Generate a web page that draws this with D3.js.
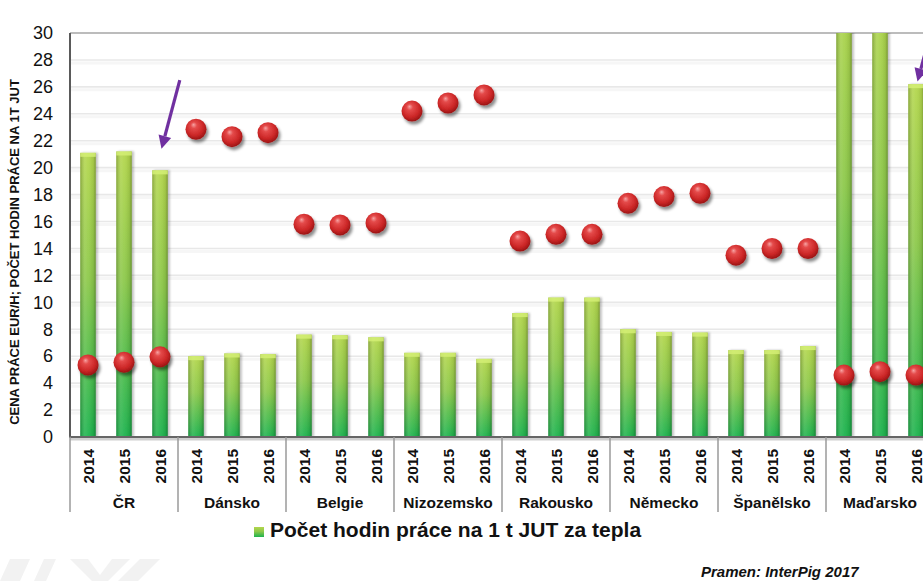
<!DOCTYPE html>
<html>
<head>
<meta charset="utf-8">
<script src="https://cdn.jsdelivr.net/npm/d3@7/dist/d3.min.js"></script>
<style>
  html, body { margin: 0; padding: 0; background: #fff; }
  svg { display: block; font-family: "Liberation Sans", Arial, sans-serif; }
</style>
</head>
<body>
<svg id="chart" width="923" height="581"></svg>
<script>
// values
const countries = ['ČR', 'Dánsko', 'Belgie', 'Nizozemsko', 'Rakousko', 'Německo', 'Španělsko', 'Maďarsko'];
const years = ['2014', '2015', '2016'];
// počet hodin práce na 1 t JUT (bars) — Maďarsko 2014/2015 run off the top
const hours = [
  [21.1, 21.2, 19.8],
  [6.0, 6.2, 6.15],
  [7.6, 7.55, 7.4],
  [6.25, 6.25, 5.8],
  [9.2, 10.35, 10.35],
  [8.0, 7.8, 7.75],
  [6.45, 6.45, 6.75],
  [34, 33, 26.2]
];
// cena práce EUR/h (dots)
const price = [
  [5.35, 5.55, 5.95],
  [22.85, 22.3, 22.6],
  [15.8, 15.75, 15.9],
  [24.2, 24.8, 25.4],
  [14.55, 15.05, 15.05],
  [17.35, 17.85, 18.1],
  [13.5, 14.0, 14.0],
  [4.6, 4.85, 4.6]
];
const yTicks = d3.range(0, 31, 2);
// arrows point at [country, year, value at the tip]
const arrows = [['ČR', '2016', 21.4], ['Maďarsko', '2016', 26.4]];
const yTitle = 'CENA PRÁCE EUR/H; POČET HODIN PRÁCE NA 1T JUT';
const legendText = 'Počet hodin práce na 1 t JUT za tepla';
const sourceText = 'Pramen: InterPig 2017';

const svg = d3.select('#chart');
const W = 923, H = 581;
const m = { left: 70, top: 33, bottom: 437, right: 934 };

const rows = [];
countries.forEach((c, i) => years.forEach((yr, j) => {
  rows.push({ key: c + '|' + yr, country: c, year: yr, hours: hours[i][j], price: price[i][j] });
}));

const x = d3.scaleBand().domain(rows.map(d => d.key)).range([m.left, m.right]);
const xg = d3.scaleBand().domain(countries).range([m.left, m.right]);
const y = d3.scaleLinear().domain([0, 30]).range([m.bottom, m.top]);
const barW = 15.5;

const defs = svg.append('defs');
const vg = defs.append('linearGradient').attr('id', 'barV').attr('x1', 0).attr('y1', 0).attr('x2', 0).attr('y2', 1);
vg.append('stop').attr('offset', '0%').attr('stop-color', '#b3d64c');
vg.append('stop').attr('offset', '45%').attr('stop-color', '#8cc84a');
vg.append('stop').attr('offset', '100%').attr('stop-color', '#1eb34e');
const hg = defs.append('linearGradient').attr('id', 'barH').attr('x1', 0).attr('y1', 0).attr('x2', 1).attr('y2', 0);
[['0%', '#000', 0.22], ['30%', '#fff', 0.12], ['55%', '#fff', 0.05], ['85%', '#000', 0.08], ['100%', '#000', 0.28]]
  .forEach(s => hg.append('stop').attr('offset', s[0]).attr('stop-color', s[1]).attr('stop-opacity', s[2]));
const rg = defs.append('radialGradient').attr('id', 'dot').attr('cx', '45%').attr('cy', '40%').attr('r', '60%').attr('fx', '38%').attr('fy', '28%');
[['0%', '#f7a3a3'], ['25%', '#e44a4a'], ['70%', '#cc2727'], ['100%', '#9a1414']]
  .forEach(s => rg.append('stop').attr('offset', s[0]).attr('stop-color', s[1]));
const sh = defs.append('filter').attr('id', 'shadow').attr('x', '-50%').attr('y', '-50%').attr('width', '200%').attr('height', '200%');
sh.append('feDropShadow').attr('dx', 2).attr('dy', 3).attr('stdDeviation', 1.8).attr('flood-color', '#000').attr('flood-opacity', 0.45);
const bsh = defs.append('filter').attr('id', 'bshadow').attr('x', '-30%').attr('y', '-5%').attr('width', '160%').attr('height', '110%');
bsh.append('feDropShadow').attr('dx', 2).attr('dy', 0).attr('stdDeviation', 1.2).attr('flood-color', '#000').attr('flood-opacity', 0.25);
defs.append('clipPath').attr('id', 'plot').append('rect')
  .attr('x', m.left).attr('y', m.top).attr('width', m.right - m.left).attr('height', m.bottom - m.top);

// faint watermark in the bottom-left corner
const wm = svg.append('g').attr('fill', '#f2f2f2');
[[[0, 581], [10, 559], [30, 559], [20, 581]],
 [[34, 581], [44, 559], [56, 559], [46, 581]],
 [[70, 559], [88, 559], [100, 575], [112, 559], [130, 559], [108, 581], [92, 581]],
 [[118, 581], [140, 559], [160, 559], [138, 581]]]
  .forEach(p => wm.append('polygon').attr('points', p.map(q => q.join(',')).join(' ')));

// grid
const grid = svg.append('g');
grid.selectAll('line.g2').data(yTicks.filter(t => t > 0 && t < 30)).join('line')
  .attr('x1', m.left).attr('x2', W).attr('y1', d => y(d) + 3).attr('y2', d => y(d) + 3)
  .attr('stroke', '#f6f6f6').attr('stroke-width', 3);
grid.selectAll('line.g1').data(yTicks.filter(t => t > 0)).join('line')
  .attr('x1', m.left).attr('x2', W).attr('y1', d => y(d)).attr('y2', d => y(d))
  .attr('stroke', d => d === 30 ? '#a6a6a6' : '#e8e8e8').attr('stroke-width', d => d === 30 ? 1.5 : 1.6);

// bars
const bars = svg.append('g').attr('clip-path', 'url(#plot)');
const bg = bars.selectAll('g').data(rows).join('g').attr('filter', 'url(#bshadow)');
bg.append('rect')
  .attr('x', d => x(d.key) + (x.bandwidth() - barW) / 2).attr('width', barW)
  .attr('y', d => y(d.hours)).attr('height', d => y(0) - y(d.hours))
  .attr('fill', 'url(#barV)');
bg.append('rect')
  .attr('x', d => x(d.key) + (x.bandwidth() - barW) / 2).attr('width', barW)
  .attr('y', d => y(d.hours)).attr('height', d => y(0) - y(d.hours))
  .attr('fill', 'url(#barH)');
bg.append('rect')
  .attr('x', d => x(d.key) + (x.bandwidth() - barW) / 2).attr('width', barW)
  .attr('y', d => y(d.hours)).attr('height', 4)
  .attr('fill', '#d4ef74').attr('opacity', 0.85);

// axes frame
svg.append('line').attr('x1', m.left).attr('x2', m.left).attr('y1', m.top).attr('y2', m.bottom)
  .attr('stroke', '#5a5a5a').attr('stroke-width', 2);
svg.append('line').attr('x1', m.left).attr('x2', W).attr('y1', m.bottom + 2).attr('y2', m.bottom + 2)
  .attr('stroke', '#cfcfcf').attr('stroke-width', 3);
svg.append('line').attr('x1', m.left - 1).attr('x2', W).attr('y1', m.bottom).attr('y2', m.bottom)
  .attr('stroke', '#666').attr('stroke-width', 2.2);

// dots
svg.append('g').selectAll('circle').data(rows).join('circle')
  .attr('cx', d => x(d.key) + x.bandwidth() / 2).attr('cy', d => y(d.price)).attr('r', 10.5)
  .attr('fill', 'url(#dot)').attr('filter', 'url(#shadow)');

// arrows
const ang = Math.atan2(69, -18.4);
const arrowLen = 71;
const ag = svg.append('g').attr('fill', '#7030a0').attr('stroke', '#7030a0');
arrows.forEach(a => {
  const tx = x(a[0] + '|' + a[1]) + x.bandwidth() / 2 + 1.5;
  const ty = y(a[2]);
  const ux = Math.cos(ang), uy = Math.sin(ang);
  const hx = tx - ux * 13, hy = ty - uy * 13;
  ag.append('line').attr('x1', tx - ux * arrowLen).attr('y1', ty - uy * arrowLen).attr('x2', hx).attr('y2', hy)
    .attr('stroke-width', 3.2);
  ag.append('polygon').attr('stroke', 'none')
    .attr('points', [[tx, ty], [hx - uy * 6.5, hy + ux * 6.5], [hx + uy * 6.5, hy - ux * 6.5]].map(p => p.join(',')).join(' '));
});

// y axis
const yAxis = svg.append('g').attr('transform', `translate(${m.left},0)`)
  .call(d3.axisLeft(y).tickValues(yTicks).tickSize(0).tickPadding(17));
yAxis.select('.domain').remove();
yAxis.selectAll('text').attr('font-size', 18).attr('fill', '#111').attr('font-family', '"Liberation Sans", Arial, sans-serif');

svg.append('text').attr('transform', 'translate(18.5,252) rotate(-90)')
  .attr('text-anchor', 'middle').attr('font-size', 13).attr('font-weight', 'bold').attr('fill', '#111')
  .text(yTitle);

// category axis: years, group names, separators
const xa = svg.append('g');
xa.selectAll('text.yr').data(rows).join('text').attr('class', 'yr')
  .attr('transform', d => `translate(${x(d.key) + x.bandwidth() / 2 + 5.5},449) rotate(-90)`)
  .attr('text-anchor', 'end').attr('font-size', 15.5).attr('font-weight', 'bold').attr('fill', '#111')
  .text(d => d.year);
xa.selectAll('text.grp').data(countries).join('text').attr('class', 'grp')
  .attr('x', d => xg(d) + xg.bandwidth() / 2).attr('y', 508)
  .attr('text-anchor', 'middle').attr('font-size', 15.5).attr('font-weight', 'bold').attr('fill', '#111')
  .text(d => d);
xa.selectAll('line').data(countries).join('line')
  .attr('x1', d => xg(d)).attr('x2', d => xg(d)).attr('y1', m.bottom).attr('y2', 512)
  .attr('stroke', '#9a9a9a').attr('stroke-width', 1.5);

// legend
svg.append('rect').attr('x', 254).attr('y', 527).attr('width', 10).attr('height', 10).attr('fill', 'url(#barV)');
svg.append('text').attr('x', 270).attr('y', 537).attr('font-size', 21).attr('font-weight', 'bold').attr('fill', '#111')
  .text(legendText);

// source
svg.append('text').attr('x', 701).attr('y', 577).attr('font-size', 15).attr('font-weight', 'bold')
  .attr('font-style', 'italic').attr('fill', '#111').text(sourceText);
</script>
</body>
</html>
